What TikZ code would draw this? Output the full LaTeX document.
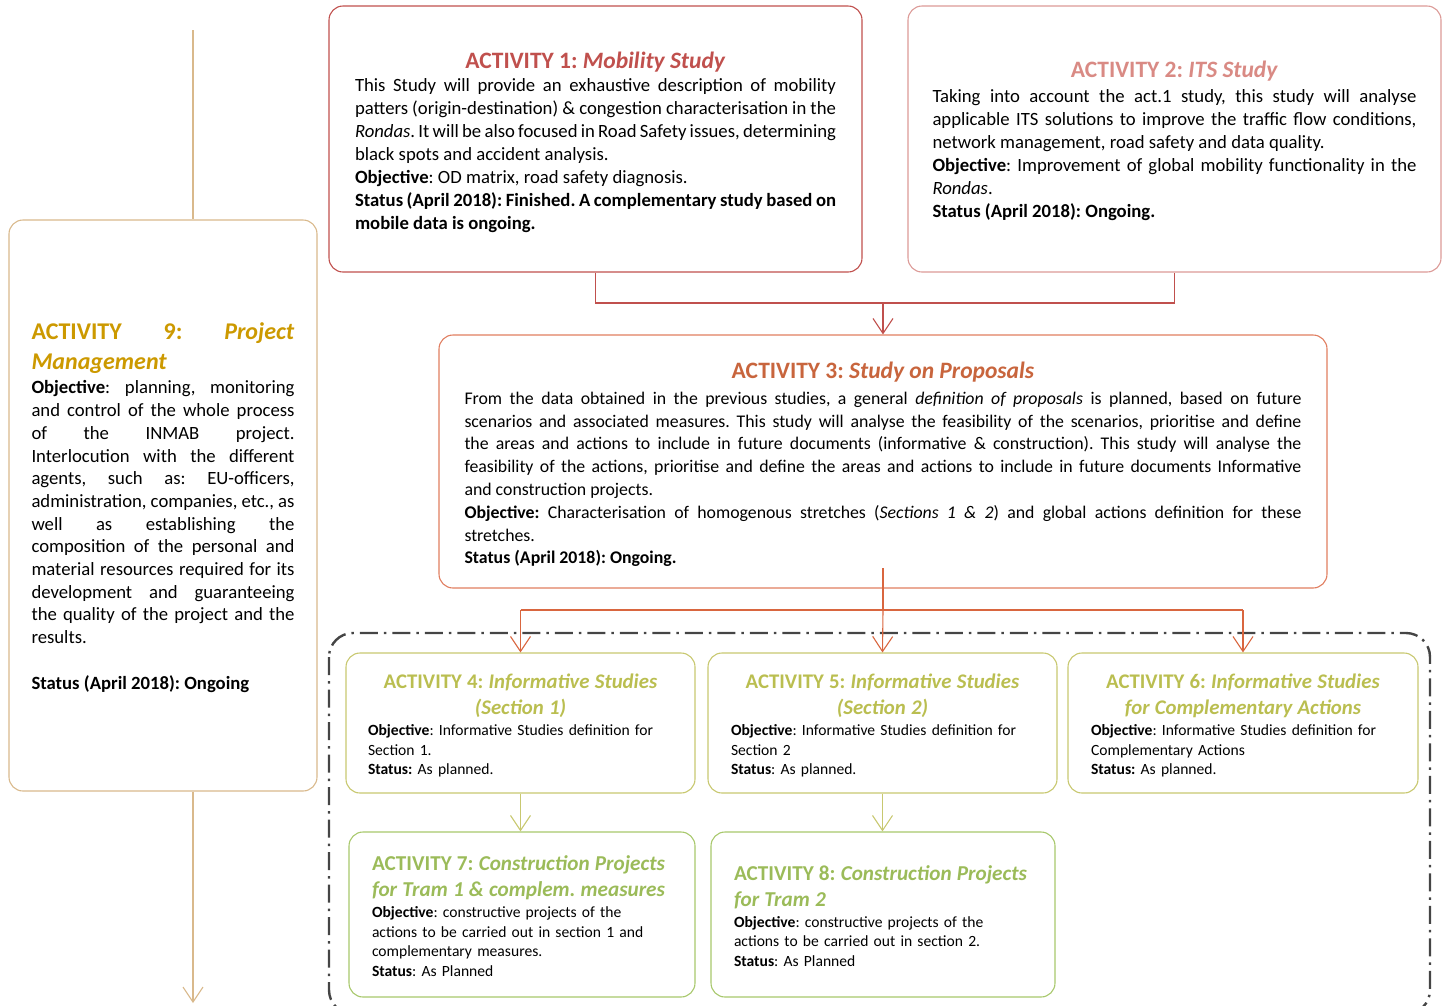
\documentclass[tikz,border=0pt]{standalone}
\usepackage{fontspec}
\setmainfont{Carlito}
\usetikzlibrary{arrows.meta}
\frenchspacing
\definecolor{cAone}{HTML}{C0504D}
\definecolor{cAtwoB}{HTML}{DC9A97}
\definecolor{cAtwoT}{HTML}{D98A84}
\definecolor{cAthreeB}{HTML}{E07E60}
\definecolor{cAthreeT}{HTML}{C8653D}
\definecolor{cArrowThree}{HTML}{D9663F}
\definecolor{cInfB}{HTML}{C8C870}
\definecolor{cInfT}{HTML}{BABE50}
\definecolor{cConB}{HTML}{A8C86C}
\definecolor{cConT}{HTML}{9BBB59}
\definecolor{cNineB}{HTML}{D9B98C}
\definecolor{cNineT}{HTML}{CC9900}
\definecolor{cFrame}{HTML}{454545}
\newcommand{\bodyBig}{\fontsize{18.7}{23}\selectfont}
\newcommand{\bodyNine}{\fontsize{18.7}{22.7}\selectfont}
\newcommand{\bodyMid}{\fontsize{17.8}{22.8}\selectfont}
\newcommand{\bodySmall}{\fontsize{15.6}{19.6}\selectfont}
\newcommand{\ttlBig}{\fontsize{23.5}{25}\selectfont\bfseries}
\newcommand{\ttlSmall}{\fontsize{20.8}{26}\selectfont\bfseries}
\newcommand{\ttlCon}{\fontsize{21.2}{26}\selectfont\bfseries}
\tikzset{
  actbox/.style={draw, rounded corners=14pt, line width=1.1pt, inner sep=0pt},
  acttext/.style={inner sep=0pt},
  link/.style={line width=1.1pt},
  vtip/.style={-{Straight Barb[length=15pt,width=20pt,line width=1.1pt]}}
}
\begin{document}
\begin{tikzpicture}[x=1pt,y=-1pt]
\useasboundingbox (0,0) rectangle (1445,1005);

% frame around activities 4-8
\draw[cFrame, line width=2.4pt, rounded corners=24pt, dash pattern=on 18pt off 6pt on 2.5pt off 6pt]
  (329,633) rectangle (1430,1014);

% boxes
\node[actbox, draw=cAone,   minimum width=533pt, minimum height=266pt] (a1) at (595.5,139) {};
\node[actbox, draw=cAtwoB,  minimum width=533pt, minimum height=266pt] (a2) at (1174.5,139) {};
\node[actbox, draw=cAthreeB,minimum width=888pt, minimum height=253pt] (a3) at (883,461.5) {};
\node[actbox, draw=cNineB,  minimum width=308pt, minimum height=571pt] (a9) at (163,505.5) {};
\node[actbox, draw=cInfB,   minimum width=349pt, minimum height=140pt] (a4) at (520.5,723) {};
\node[actbox, draw=cInfB,   minimum width=349pt, minimum height=140pt] (a5) at (882.5,723) {};
\node[actbox, draw=cInfB,   minimum width=350pt, minimum height=140pt] (a6) at (1243,723) {};
\node[actbox, draw=cConB,   minimum width=346pt, minimum height=165pt] (a7) at (522,914.5) {};
\node[actbox, draw=cConB,   minimum width=344pt, minimum height=165pt] (a8) at (883,914.5) {};

% Activity 1 text
\node[acttext, text width=481pt, align=justify, font=\bodyBig, yshift=-3pt] (a1t) at (a1.center) {%
{\centering\ttlBig\color{cAone}ACTIVITY 1: \textit{Mobility Study}\par}
This Study will provide an exhaustive description of mobility\linebreak
patters (origin-destination) \& congestion characterisation in the\linebreak
\textit{Rondas}. It will be also focused in Road Safety issues, determining\linebreak
black spots and accident analysis.\par
\textbf{Objective}: OD matrix, road safety diagnosis.\par
\textbf{Status (April 2018): Finished. A complementary study based on\linebreak
mobile data is ongoing.}\par};

% Activity 2 text
\node[acttext, text width=484pt, align=justify, font=\bodyBig, yshift=-2pt] (a2t) at (a2.center) {%
{\centering\ttlBig\color{cAtwoT}ACTIVITY 2: \textit{ITS Study}\par}
\vspace{1.5pt}
Taking into account the act.1 study, this study will analyse\linebreak
applicable ITS solutions to improve the traffic flow conditions,\linebreak
network management, road safety and data quality.\par
\textbf{Objective}: Improvement of global mobility functionality in the\linebreak
\textit{Rondas}.\par
\textbf{Status (April 2018): Ongoing.}\par};

% Activity 3 text
\node[acttext, text width=837pt, align=justify, font=\bodyMid, yshift=-3pt] (a3t) at (a3.center) {%
{\centering\ttlBig\color{cAthreeT}ACTIVITY 3: \textit{Study on Proposals}\par}
\vspace{3pt}
From the data obtained in the previous studies, a general \textit{definition of proposals} is planned, based on future\linebreak
scenarios and associated measures. This study will analyse the feasibility of the scenarios, prioritise and define\linebreak
the areas and actions to include in future documents (informative \& construction). This study will analyse the\linebreak
feasibility of the actions, prioritise and define the areas and actions to include in future documents Informative\linebreak
and construction projects.\par
\textbf{Objective:} Characterisation of homogenous stretches (\textit{Sections 1 \& 2}) and global actions definition for these\linebreak
stretches.\par
\textbf{Status (April 2018): Ongoing.}\par};

% Activity 9 text
\node[acttext, text width=263pt, align=justify, font=\bodyNine, yshift=-2pt] (a9t) at (a9.center) {%
{\fontsize{24}{30}\selectfont\bfseries\color{cNineT}ACTIVITY 9: \textit{Project}\linebreak
\textit{Management}\par}
\vspace{2pt}
\textbf{Objective}: planning, monitoring\linebreak
and control of the whole process\linebreak
of the INMAB project.\linebreak
Interlocution with the different\linebreak
agents, such as: EU-officers,\linebreak
administration, companies, etc., as\linebreak
well as establishing the\linebreak
composition of the personal and\linebreak
material resources required for its\linebreak
development and guaranteeing\linebreak
the quality of the project and the\linebreak
results.\par
\vspace{23pt}
\textbf{Status (April 2018): Ongoing}\par};

% Activities 4-6 text
\node[acttext, text width=305pt, align=left, font=\bodySmall, yshift=-2.5pt] (a4t) at (a4.center) {%
{\centering\ttlSmall\color{cInfT}ACTIVITY 4: \textit{Informative Studies}\\
\textit{(Section 1)}\par}
\vspace{2pt}
\textbf{Objective}: Informative Studies definition for\\
Section 1.\\
\textbf{Status:} As planned.};

\node[acttext, text width=303pt, align=left, font=\bodySmall, yshift=-2.5pt] (a5t) at (a5.center) {%
{\centering\ttlSmall\color{cInfT}ACTIVITY 5: \textit{Informative Studies}\\
\textit{(Section 2)}\par}
\vspace{2pt}
\textbf{Objective}: Informative Studies definition for\\
Section 2\\
\textbf{Status}: As planned.};

\node[acttext, text width=304pt, align=left, font=\bodySmall, yshift=-2.5pt] (a6t) at (a6.center) {%
{\centering\ttlSmall\color{cInfT}ACTIVITY 6: \textit{Informative Studies}\\
\textit{for Complementary Actions}\par}
\vspace{2pt}
\textbf{Objective}: Informative Studies definition for\\
Complementary Actions\\
\textbf{Status:} As planned.};

% Activities 7-8 text
\node[acttext, text width=300pt, align=left, font=\bodySmall, yshift=-1.5pt] (a7t) at (a7.center) {%
{\ttlCon\color{cConT}ACTIVITY 7: \textit{Construction Projects}\\
\textit{for Tram 1 \& complem. measures}\par}
\vspace{1.5pt}
\textbf{Objective}: constructive projects of the\\
actions to be carried out in section 1 and\\
complementary measures.\\
\textbf{Status}: As Planned};

\node[acttext, text width=298pt, align=left, font=\bodySmall, yshift=-1.5pt] (a8t) at (a8.center) {%
{\ttlCon\color{cConT}ACTIVITY 8: \textit{Construction Projects}\\
\textit{for Tram 2}\par}
\vspace{1.5pt}
\textbf{Objective}: constructive projects of the\\
actions to be carried out in section 2.\\
\textbf{Status}: As Planned};

% connectors 1,2 -> 3
\coordinate (j1) at (883,303);
\draw[link, cAone] (a1.south) -- (a1.south |- j1) -- (a2.south |- j1) -- (a2.south);
\draw[link, cAone, vtip] (j1) -- (a3.north);

% connectors 3 -> 4,5,6
\coordinate (s3) at (883,568);
\coordinate (j3) at (883,610);
\draw[link, cArrowThree] (s3) -- (j3);
\draw[link, cArrowThree] (a4.north |- j3) -- (a6.north |- j3);
\draw[link, cArrowThree, vtip] (a4.north |- j3) -- (a4.north);
\draw[link, cArrowThree, vtip] (j3) -- (a5.north);
\draw[link, cArrowThree, vtip] (a6.north |- j3) -- (a6.north);

% connectors 4 -> 7, 5 -> 8
\draw[link, cInfB, vtip] (a4.south) -- (a4.south |- a7.north);
\draw[link, cInfB, vtip] (a5.south) -- (a5.south |- a8.north);

% activity 9 line
\coordinate (t9) at (193,30);
\coordinate (b9) at (193,1003);
\draw[link, cNineB] (t9) -- (t9 |- a9.north);
\draw[link, cNineB, vtip] (b9 |- a9.south) -- (b9);
\end{tikzpicture}
\end{document}
